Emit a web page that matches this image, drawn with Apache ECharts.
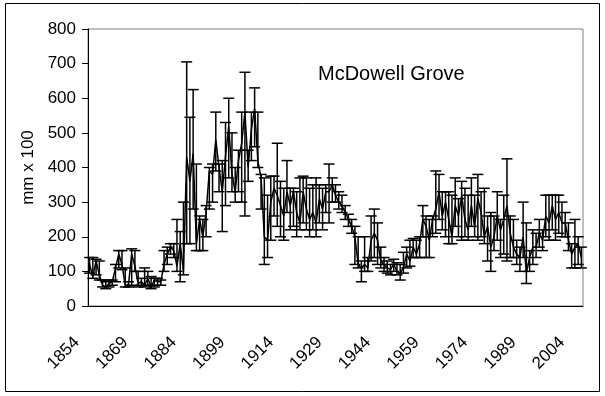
<!DOCTYPE html>
<html>
<head>
<meta charset="utf-8">
<script src="https://cdn.jsdelivr.net/npm/echarts@6/dist/echarts.min.js"></script>
<style>
html,body{margin:0;padding:0;background:#fff;}
#chart{width:605px;height:396px;}
</style>
</head>
<body>
<div id="chart"></div>
<script>
// Years 1854..2006
var startYear = 1854;
var values = [
120,85,130,90,60,55,65,70,110,150,120,60,60,150,115,65,70,60,80,55,
75,70,70,120,150,170,160,115,180,100,430,360,440,180,250,200,270,390,380,480,
400,330,430,520,380,330,420,470,560,400,510,570,420,370,200,190,300,340,320,290,
260,330,290,330,270,240,330,280,250,270,240,310,280,330,330,350,320,300,290,270,
250,230,200,120,110,120,110,190,210,190,130,120,110,105,120,100,95,110,150,130,
170,150,180,250,230,190,250,280,330,260,300,250,200,290,260,320,250,220,290,230,
310,270,200,230,170,200,260,220,250,290,210,170,150,140,200,95,140,170,170,210,
190,260,240,290,250,270,240,240,190,150,170,180,140
];
var highs = [
140,140,135,130,75,70,75,75,120,160,160,110,70,165,160,100,80,110,100,85,
80,80,75,160,170,180,180,250,215,300,705,545,625,410,260,250,290,400,410,560,
410,420,530,600,500,400,450,560,675,450,560,630,560,380,370,320,375,375,470,360,
340,420,340,340,330,370,375,370,340,350,370,350,340,350,410,370,350,330,320,290,
265,250,230,200,130,200,140,260,280,240,170,140,130,120,135,125,120,155,170,190,
195,190,200,290,260,250,260,390,380,330,330,330,320,370,310,360,340,320,370,320,
380,330,340,260,270,260,330,250,320,425,260,250,190,170,300,240,160,220,210,250,
220,320,320,320,320,320,300,270,240,180,250,200,170
];
var lows = [
95,80,90,75,55,50,55,60,70,110,105,55,55,60,100,55,60,55,60,50,
55,60,60,100,120,150,140,100,70,90,180,180,280,160,160,160,200,280,300,390,
330,215,290,370,330,300,330,300,260,360,420,460,400,280,120,140,190,260,230,200,
190,270,220,230,200,220,240,220,200,220,200,240,220,270,240,300,300,280,270,250,
230,210,120,110,70,100,100,130,140,120,110,100,95,90,100,90,75,95,110,115,
140,140,140,200,140,140,200,210,250,220,200,180,180,230,200,190,200,190,230,200,
190,200,180,130,100,160,190,140,150,130,140,140,120,100,140,65,100,120,140,170,
160,200,190,220,190,210,200,200,160,110,110,120,110
];
var yTicks = [0,100,200,300,400,500,600,700,800];

var years = values.map(function(v,i){return String(startYear+i);});
var barData = values.map(function(v,i){return [i, highs[i], lows[i]];});

var chart = echarts.init(document.getElementById('chart'), null, {renderer:'canvas'});
var FONT = '"Liberation Sans", Arial, sans-serif';
chart.setOption({
  animation:false,
  backgroundColor:'#fff',
  graphic:[{
    type:'rect', shape:{x:5.5,y:3.5,width:594,height:388},
    style:{fill:'none',stroke:'#000',lineWidth:1}, z:-1
  }],
  title:{
    text:'McDowell Grove', left:313, top:59,
    textStyle:{fontFamily:FONT,fontSize:20,fontWeight:'normal',color:'#000'}
  },
  grid:{left:88,right:22,top:29,bottom:90,show:true,borderColor:'#808080',borderWidth:1,backgroundColor:'transparent'},
  xAxis:[{
    type:'category', data:years, boundaryGap:true,
    axisLine:{lineStyle:{color:'#000',width:1}},
    axisTick:{interval:4,length:5,lineStyle:{color:'#000'}},
    axisLabel:{interval:14,rotate:45,fontFamily:FONT,fontSize:17,color:'#000',margin:21,padding:[0,18,0,0]},
    splitLine:{show:false}
  },{
    type:'category', data:years, boundaryGap:true, position:'bottom',
    axisLine:{show:false},
    axisTick:{interval:4,length:5,inside:true,lineStyle:{color:'#000'}},
    axisLabel:{show:false},
    splitLine:{show:false}
  }],
  yAxis:{
    type:'value', min:0, max:800, interval:100,
    name:'mm x 100', nameLocation:'middle', nameRotate:90, nameGap:37,
    nameTextStyle:{fontFamily:FONT,fontSize:17,color:'#000'},
    axisLine:{show:true,lineStyle:{color:'#000',width:1}},
    axisTick:{show:true,length:6,lineStyle:{color:'#000'}},
    axisLabel:{fontFamily:FONT,fontSize:17,color:'#000',margin:12},
    splitLine:{show:false}
  },
  series:[
    {
      type:'custom',
      data:barData,
      encode:{x:0,y:[1,2]},
      renderItem:function(params, api){
        var hi = api.coord([api.value(0), api.value(1)]);
        var lo = api.coord([api.value(0), api.value(2)]);
        var w = 5.5;
        var st = {stroke:'#000',lineWidth:1.5};
        return {type:'group',children:[
          {type:'line',shape:{x1:hi[0],y1:hi[1],x2:lo[0],y2:lo[1]},style:st},
          {type:'line',shape:{x1:hi[0]-w,y1:hi[1],x2:hi[0]+w,y2:hi[1]},style:st},
          {type:'line',shape:{x1:lo[0]-w,y1:lo[1],x2:lo[0]+w,y2:lo[1]},style:st}
        ]};
      },
      z:2
    },
    {
      type:'line', data:values, symbol:'none',
      lineStyle:{color:'#000',width:1.5}, z:3
    }
  ]
});
</script>
</body>
</html>
